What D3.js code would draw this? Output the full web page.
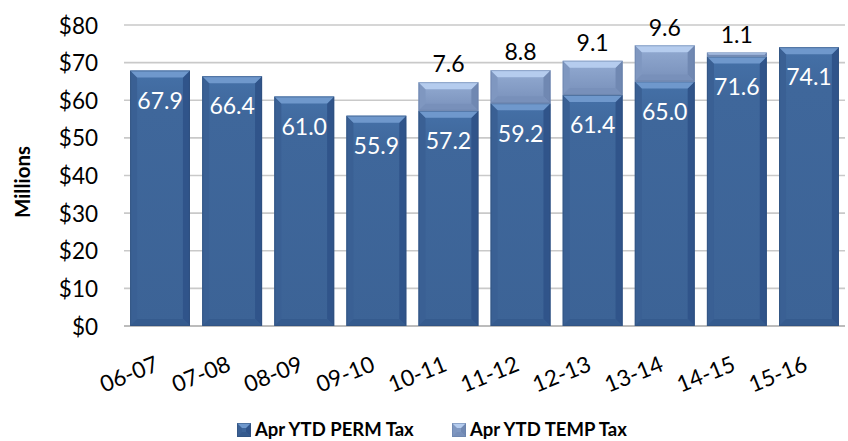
<!DOCTYPE html>
<html><head><meta charset="utf-8">
<script src="https://cdn.jsdelivr.net/npm/d3@7"></script>
<style>body{margin:0;background:#fff}svg{display:block}text{font-family:Lato,"Open Sans",sans-serif}</style>
</head><body><svg id="c" width="848" height="441"></svg>
<script>
const categories = ["06-07","07-08","08-09","09-10","10-11","11-12","12-13","13-14","14-15","15-16"];
const permValues = [67.9,66.4,61.0,55.9,57.2,59.2,61.4,65.0,71.6,74.1];
const tempValues = [null,null,null,null,7.6,8.8,9.1,9.6,1.1,null];
const yTicks = [0,10,20,30,40,50,60,70,80];
const seriesNames = ["Apr YTD PERM Tax","Apr YTD TEMP Tax"];

const svg = d3.select("#c");
const x = d3.scaleBand().domain(categories).range([124,845]).paddingInner(0.17).paddingOuter(0.085);
const y = d3.scaleLinear().domain([0,80]).range([326,25]);

const defs = svg.append("defs");
function grad(id, stops){
  const g = defs.append("linearGradient").attr("id",id).attr("x1",0).attr("y1",0).attr("x2",0).attr("y2",1);
  stops.forEach(s=>g.append("stop").attr("offset",s[0]).attr("stop-color",s[1]));
}
grad("permFace",[[0,"#4571a8"],[0.15,"#3f679b"],[1,"#3c6396"]]);
grad("tempFace",[[0,"#93abd2"],[1,"#7890ba"]]);
const pal = {
  perm:{face:"url(#permFace)",top:"#6f98cc",left:"#3a6094",right:"#30548a",bottom:"#355b8e",edge:"#2f4e78"},
  temp:{face:"url(#tempFace)",top:"#b5ccee",left:"#7f97c0",right:"#7088b2",bottom:"#7890ba",edge:"#667ea6"}
};

// grid
svg.append("g").selectAll("line").data(yTicks).join("line")
  .attr("x1",124).attr("x2",845).attr("y1",d=>y(d)).attr("y2",d=>y(d))
  .attr("stroke",d=>d===0?"#a6a6a6":"#c9c9c9").attr("stroke-width",1.6);

// y axis labels
const yAxis = d3.axisLeft(y).tickValues(yTicks).tickFormat(d=>"$"+d).tickSize(0).tickPadding(0);
const ya = svg.append("g").attr("transform","translate(98,0)").call(yAxis);
ya.select(".domain").remove();
ya.selectAll("text").attr("font-size",22.5).attr("fill","#000").attr("font-family","Lato").attr("dy","0.36em");

svg.append("text").attr("transform","translate(30,182) rotate(-90)").attr("text-anchor","middle")
  .attr("font-size",20.5).attr("font-weight","bold").text("Millions");

function bevelBar(g, x0, y0, w, h, p, bv){
  const b = Math.min(bv||7, h/2);
  g.append("rect").attr("x",x0).attr("y",y0).attr("width",w).attr("height",h).attr("fill",p.face);
  const poly = (pts,fill)=>g.append("polygon").attr("points",pts.map(q=>q.join(",")).join(" ")).attr("fill",fill);
  poly([[x0,y0],[x0+b,y0+b],[x0+b,y0+h-b],[x0,y0+h]],p.left);
  poly([[x0+w,y0],[x0+w-b,y0+b],[x0+w-b,y0+h-b],[x0+w,y0+h]],p.right);
  poly([[x0,y0+h],[x0+b,y0+h-b],[x0+w-b,y0+h-b],[x0+w,y0+h]],p.bottom);
  poly([[x0,y0],[x0+w,y0],[x0+w-b,y0+b],[x0+b,y0+b]],p.top);
  g.append("rect").attr("x",x0+0.5).attr("y",y0+0.5).attr("width",w-1).attr("height",h-1)
    .attr("fill","none").attr("stroke",p.edge).attr("stroke-width",1).attr("opacity",0.5);
}

const bars = svg.append("g");
categories.forEach((c,i)=>{
  const bx = x(c), bw = x.bandwidth();
  const p = permValues[i];
  bevelBar(bars, bx, y(p), bw, y(0)-y(p), pal.perm);
  const t = tempValues[i];
  if(t!=null){
    bevelBar(bars, bx, y(p+t), bw, y(p)-y(p+t), pal.temp);
  }
});

// labels
const lab = svg.append("g").attr("font-size",23).attr("text-anchor","middle");
categories.forEach((c,i)=>{
  const cx = x(c)+x.bandwidth()/2;
  const p = permValues[i];
  lab.append("text").attr("x",cx).attr("y",y(p)+30).attr("dy","0.36em").attr("fill","#fff").text(p.toFixed(1));
  const t = tempValues[i];
  if(t!=null){
    lab.append("text").attr("x",cx).attr("y",y(p+t)-18).attr("dy","0.36em").attr("fill","#000").text(t.toFixed(1));
  }
});

// x labels
svg.append("g").selectAll("text").data(categories).join("text")
  .attr("transform",d=>`translate(${x(d)+x.bandwidth()/2},370) rotate(-22)`)
  .attr("text-anchor","end").attr("font-size",22.5).text(d=>d);

// legend
const leg = svg.append("g").attr("font-size",18.5).attr("font-weight","bold");
const legX = [237,452];
seriesNames.forEach((n,i)=>{
  const p = i===0?pal.perm:pal.temp;
  const g = leg.append("g");
  bevelBar(g, legX[i], 423, 14, 14, {...p, face:i===0?"#3d659a":"#8199c2"}, 5);
  leg.append("text").attr("x",legX[i]+18).attr("y",436).text(n);
});
</script></body></html>
